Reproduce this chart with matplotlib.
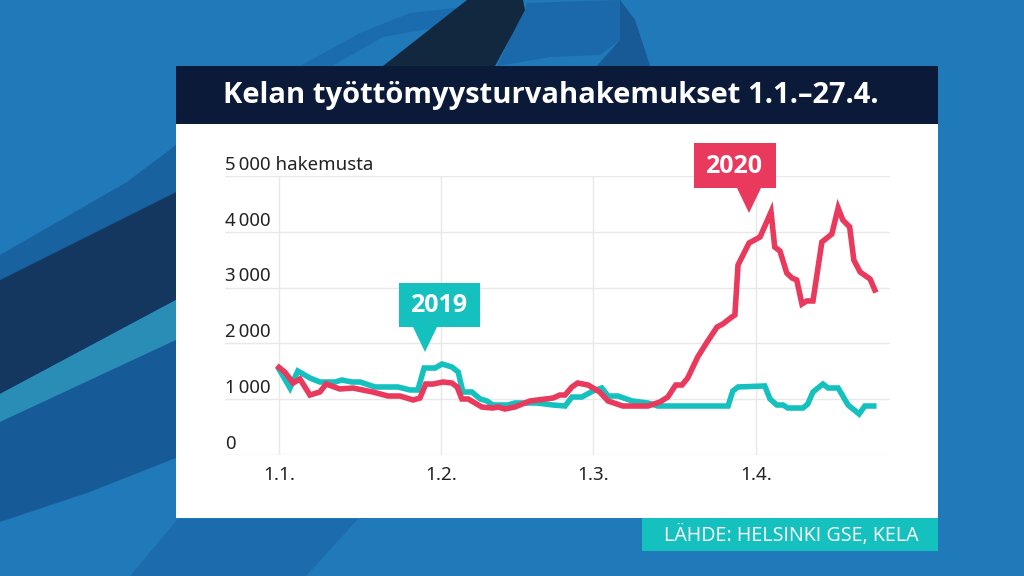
#!/usr/bin/env python3

import matplotlib
matplotlib.use("Agg")
from matplotlib import pyplot as plt
from matplotlib.patches import Polygon, Rectangle

W, H = 1024, 576

# days since 1.1.
days_2020 = [0, 1.1, 2.7, 4.0, 5.9, 7.8, 9.0, 11.6, 14.1, 17.9, 20.8, 23.1, 25.6, 26.9, 28.0, 29.4,
             31.3, 33.0, 34.0, 34.9, 36.1, 38.7, 40.8, 41.8, 43.1, 45.0, 47.9, 52.3, 53.6, 54.6,
             55.9, 57.0, 59.0, 61.2, 62.8, 65.6, 70.4, 72.7, 74.2, 75.7, 76.9, 78.0, 79.9, 81.7,
             83.6, 84.7, 86.4, 87.0, 87.6, 89.7, 91.8, 93.9, 94.6, 95.6, 96.9, 97.9, 98.8, 99.8,
             100.7, 101.9, 103.6, 105.5, 106.7, 107.6, 108.9, 109.7, 110.9, 112.8, 113.7]
apps_2020 = [1570, 1487, 1290, 1362, 1075, 1129, 1272, 1183, 1200, 1129, 1057, 1057, 986, 1021, 1272, 1272,
             1308, 1290, 1219, 1004, 1004, 860, 842, 860, 824, 860, 968, 1021, 1075, 1075,
             1219, 1290, 1254, 1129, 968, 878, 878, 950, 1039, 1254, 1254, 1380, 1756, 2025,
             2294, 2348, 2473, 2509, 3405, 3799, 3907, 4355, 3727, 3656, 3261, 3172, 3136, 2706,
             2760, 2760, 3817, 3960, 4426, 4211, 4086, 3494, 3279, 3154, 2957]

days_2019 = [0, 2.1, 3.6, 5.9, 7.8, 10.7, 12.0, 13.9, 15.5, 18.3, 19.8, 22.7, 25.0, 26.5, 27.7, 29.8,
             31.1, 33.0, 34.2, 35.1, 36.8, 38.4, 39.7, 40.8, 43.7, 45.0, 49.2, 52.3, 54.6, 55.9,
             57.8, 59.9, 61.6, 62.8, 64.7, 67.4, 70.4, 72.3, 85.7, 86.6, 87.6, 92.7, 93.7, 95.0,
             96.2, 97.1, 100.0, 100.9, 101.9, 103.8, 104.8, 106.7, 108.6, 110.7, 111.8, 113.5]
apps_2019 = [1541, 1201, 1505, 1380, 1308, 1308, 1344, 1308, 1308, 1219, 1219, 1219, 1165, 1165, 1559, 1559,
             1631, 1577, 1487, 1129, 1129, 1004, 968, 896, 896, 932, 932, 896, 878, 1039,
             1039, 1147, 1201, 1057, 1057, 968, 932, 878, 878, 1147, 1219, 1237, 1004, 896,
             896, 842, 842, 914, 1129, 1272, 1201, 1201, 896, 735, 878, 878]

x_ticks = [0, 31, 60, 91]
x_labels = ["1.1.", "1.2.", "1.3.", "1.4."]
y_ticks = [0, 1000, 2000, 3000, 4000, 5000]
y_labels = ["0", "1\u2009000", "2\u2009000", "3\u2009000", "4\u2009000", "5\u2009000 hakemusta"]

RED = "#e9395c"
TEAL = "#14c1bf"
NAVY = "#0b1a38"

fig = plt.figure(figsize=(W / 100, H / 100), dpi=100, facecolor="#2079b8")

# backdrop in pixel coordinates
bg = fig.add_axes([0, 0, 1, 1], zorder=0)
bg.set_xlim(0, W)
bg.set_ylim(H, 0)
bg.axis("off")

shapes = [
    ([(0, 255), (127, 182), (176, 145), (176, 192), (0, 280)], "#17629f"),
    ([(0, 280), (176, 192), (176, 300), (0, 394)], "#14375f"),
    ([(0, 394), (176, 300), (176, 340), (0, 422)], "#2a8db6"),
    ([(0, 422), (176, 340), (176, 458), (87, 493), (0, 522)], "#175a98"),
    ([(130, 576), (178, 519), (358, 519), (306, 576)], "#1c6cad"),
    ([(300, 66), (360, 33), (410, 13), (463, 7), (433, 28), (383, 37), (332, 66)], "#1b6cae"),
    ([(527, 3), (620, 0), (635, 20), (650, 66), (597, 66), (620, 40), (600, 55), (550, 57), (497, 66),
      (513, 33), (525, 10)], "#1b68aa"),
    ([(620, 0), (635, 20), (650, 66), (597, 66), (620, 40)], "#175a96"),
    ([(467, 0), (523, 0), (525, 10), (513, 33), (495, 66), (383, 66)], "#12283f"),
]
for pts, col in shapes:
    bg.add_patch(Polygon(pts, closed=True, facecolor=col, edgecolor="none"))

bg.add_patch(Rectangle((176, 124), 762, 394, facecolor="white", edgecolor="none"))
bg.add_patch(Rectangle((176, 66), 762, 58, facecolor=NAVY, edgecolor="none"))
bg.add_patch(Rectangle((642, 518), 296, 33, facecolor=TEAL, edgecolor="none"))

bg.text(551, 96, "Kelan työttömyysturvahakemukset 1.1.–27.4.", color="white", fontsize=21,
        fontweight="bold", family="Open Sans", ha="center", va="center")
bg.text(791, 535, "LÄHDE: HELSINKI GSE, KELA", color="white", fontsize=14.2,
        family="Open Sans", ha="center", va="center")

# chart area: 225..890 px wide, 176..455 px tall
ax = fig.add_axes([225 / W, 1 - 455 / H, 665 / W, 279 / H], zorder=1)
ax.patch.set_alpha(0)
ax.set_xlim(-10.3, 116.6)
ax.set_ylim(0, 5000)
for side in ax.spines:
    ax.spines[side].set_visible(False)

ax.set_xticks(x_ticks)
ax.set_xticklabels(x_labels, family="Noto Sans", fontsize=13.5, color="#222222")
ax.set_yticks(y_ticks)
ax.set_yticklabels([])
ax.tick_params(length=0, pad=8)
ax.grid(True, color="#e8e8e8", linewidth=1)
ax.set_axisbelow(True)

for val, lab in zip(y_ticks, y_labels):
    ax.annotate(lab, xy=(0, val), xycoords=("axes fraction", "data"), xytext=(0, 8),
                textcoords="offset points", ha="left", va="center",
                family="Noto Sans", fontsize=13.4, color="#222222")

ax.plot(days_2019, apps_2019, color=TEAL, linewidth=4.0, solid_joinstyle="miter", clip_on=False)
ax.plot(days_2020, apps_2020, color=RED, linewidth=4.0, solid_joinstyle="miter", clip_on=False)

# year callouts on top of the chart
top = fig.add_axes([0, 0, 1, 1], zorder=2)
top.set_xlim(0, W)
top.set_ylim(H, 0)
top.axis("off")
top.patch.set_alpha(0)


def callout(label, left, right, y0, y1, tip, col):
    top.add_patch(Rectangle((left, y0), right - left, y1 - y0, facecolor=col, edgecolor="none"))
    top.add_patch(Polygon([(tip[0] - 12, y1), (tip[0] + 12, y1), tip], closed=True,
                          facecolor=col, edgecolor="none"))
    top.text((left + right) / 2 - 1, (y0 + y1) / 2 + 1, label, color="white", fontsize=18,
             fontweight="bold", family="Open Sans", ha="center", va="center")


callout("2019", 399, 480, 283, 327, (425, 352), TEAL)
callout("2020", 694, 776, 143, 188, (749, 213), RED)

plt.savefig("out.png", dpi=100, facecolor=fig.get_facecolor())
